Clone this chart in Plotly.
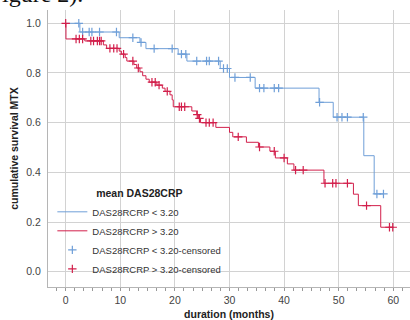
import numpy as np
import plotly.graph_objects as go

# ---- data ----
low_times = [0, 2.6, 9.8, 13.6, 14.7, 20.6, 22.2, 28.3, 30.0, 34.7, 46.4, 49.0, 54.6, 56.5, 58.2]
low_surv = [1.0, 0.965, 0.942, 0.923, 0.898, 0.876, 0.848, 0.818, 0.782, 0.739, 0.682, 0.622, 0.467, 0.313, 0.313]
low_cens = [2.4, 3.1, 4.3, 4.8, 6.2, 9.3, 12.3, 13.8, 16.2, 19.5, 21.2, 22.0, 24.0, 25.8, 26.3, 28.0,
            28.9, 29.6, 31.0, 33.8, 35.5, 36.3, 38.2, 39.0, 46.5, 49.7, 50.6, 51.6, 54.5, 57.0, 58.2]

high_times = [0, 0.05, 3.5, 6.9, 7.5, 9.8, 10.2, 10.9, 11.2, 12.5, 13.0, 13.6, 14.1, 14.7, 15.3, 16.7,
              17.7, 18.2, 19.1, 19.5, 19.7, 23.1, 24.0, 24.3, 24.7, 27.5, 30.0, 30.6, 33.1, 35.3, 37.4,
              38.4, 40.6, 41.8, 47.3, 52.7, 53.6, 57.7, 59.9]
high_surv = [1.0, 0.937, 0.929, 0.913, 0.899, 0.888, 0.876, 0.862, 0.848, 0.834, 0.820, 0.805, 0.789,
             0.775, 0.763, 0.751, 0.739, 0.726, 0.712, 0.692, 0.664, 0.647, 0.632, 0.617, 0.600, 0.581,
             0.561, 0.543, 0.521, 0.502, 0.485, 0.458, 0.434, 0.409, 0.356, 0.312, 0.266, 0.179, 0.179]
high_cens = [0.0, 1.9, 2.5, 3.1, 4.6, 5.1, 5.8, 6.2, 6.5, 8.1, 8.8, 9.4, 10.6, 12.3, 13.3, 15.8, 16.4,
             17.1, 18.6, 20.8, 21.2, 21.8, 24.1, 24.5, 25.7, 26.3, 27.0, 31.6, 35.5, 38.2, 40.0, 42.1,
             43.5, 47.5, 48.9, 49.5, 51.6, 55.1, 59.3, 59.9]

group_names = ["DAS28RCRP < 3.20", "DAS28RCRP > 3.20"]
legend_title = "mean DAS28CRP"
x_ticks = [0, 10, 20, 30, 40, 50, 60]
y_ticks = [0.0, 0.2, 0.4, 0.6, 0.8, 1.0]

BLUE = "#6f9fd8"
RED = "#d21f4b"
FONT = "Liberation Sans, Arial, sans-serif"


def step_value(times, surv, t):
    idx = np.searchsorted(np.array(times), t, side="right") - 1
    return [surv[i] for i in idx]


fig = go.Figure()
fig.add_trace(go.Scatter(x=low_times, y=low_surv, mode="lines", line=dict(color=BLUE, width=1, shape="hv"),
                         name=group_names[0]))
fig.add_trace(go.Scatter(x=high_times, y=high_surv, mode="lines", line=dict(color=RED, width=1, shape="hv"),
                         name=group_names[1]))
fig.add_trace(go.Scatter(x=low_cens, y=step_value(low_times, low_surv, low_cens), mode="markers",
                         marker=dict(symbol="cross-thin", size=6, line=dict(color=BLUE, width=1.2)),
                         name=group_names[0] + "-censored"))
fig.add_trace(go.Scatter(x=high_cens, y=step_value(high_times, high_surv, high_cens), mode="markers",
                         marker=dict(symbol="cross-thin", size=6, line=dict(color=RED, width=1.2)),
                         name=group_names[1] + "-censored"))

fig.update_layout(
    width=410, height=320,
    margin=dict(l=48, r=0, t=10, b=33, autoexpand=False),
    paper_bgcolor="white", plot_bgcolor="white",
    font=dict(family=FONT, size=10.5, color="#444"),
    showlegend=True,
    legend=dict(
        x=0.012, y=0.012, xanchor="left", yanchor="bottom",
        bgcolor="rgba(0,0,0,0)", borderwidth=0,
        font=dict(size=9.5, color="#333"),
        title=dict(text="<b>" + legend_title + "</b>", side="top center",
                   font=dict(size=10.5, color="#222")),
        itemwidth=30, tracegroupgap=0,
    ),
    annotations=[dict(text="igure 2).", xref="paper", yref="paper", x=-0.133, y=1.0,
                      xanchor="left", yanchor="middle", yshift=16, showarrow=False,
                      font=dict(family="Liberation Serif, Times New Roman, serif", size=24, color="#111"))],
)

fig.update_xaxes(
    automargin=False,
    range=[-3.24, 63.06], tickvals=x_ticks, ticktext=[str(v) for v in x_ticks],
    showgrid=True, gridcolor="#d2d2d2", gridwidth=1, zeroline=False,
    showline=True, linecolor="#b5b5b5", linewidth=1,
    ticks="outside", ticklen=3, tickcolor="#999",
    minor=dict(ticks="outside", ticklen=3, tickcolor="#999", dtick=10 / 6, tick0=0, showgrid=False),
    title=dict(text="<b>duration (months)</b>", font=dict(size=10.5, color="#222"), standoff=7),
)
fig.update_yaxes(
    automargin=False,
    range=[-0.0616, 1.0536], tickvals=y_ticks, ticktext=[f"{v:.1f}" for v in y_ticks],
    showgrid=True, gridcolor="#d2d2d2", gridwidth=1, zeroline=False,
    showline=True, linecolor="#b5b5b5", linewidth=1, ticks="", ticklabelstandoff=4,
    title=dict(text="<b>cumulative survival MTX</b>", font=dict(size=10.5, color="#222"), standoff=5),
)

fig.write_html("out.html", config={"displayModeBar": False},
               post_script="document.body.style.margin='0';document.body.style.overflow='hidden';")
